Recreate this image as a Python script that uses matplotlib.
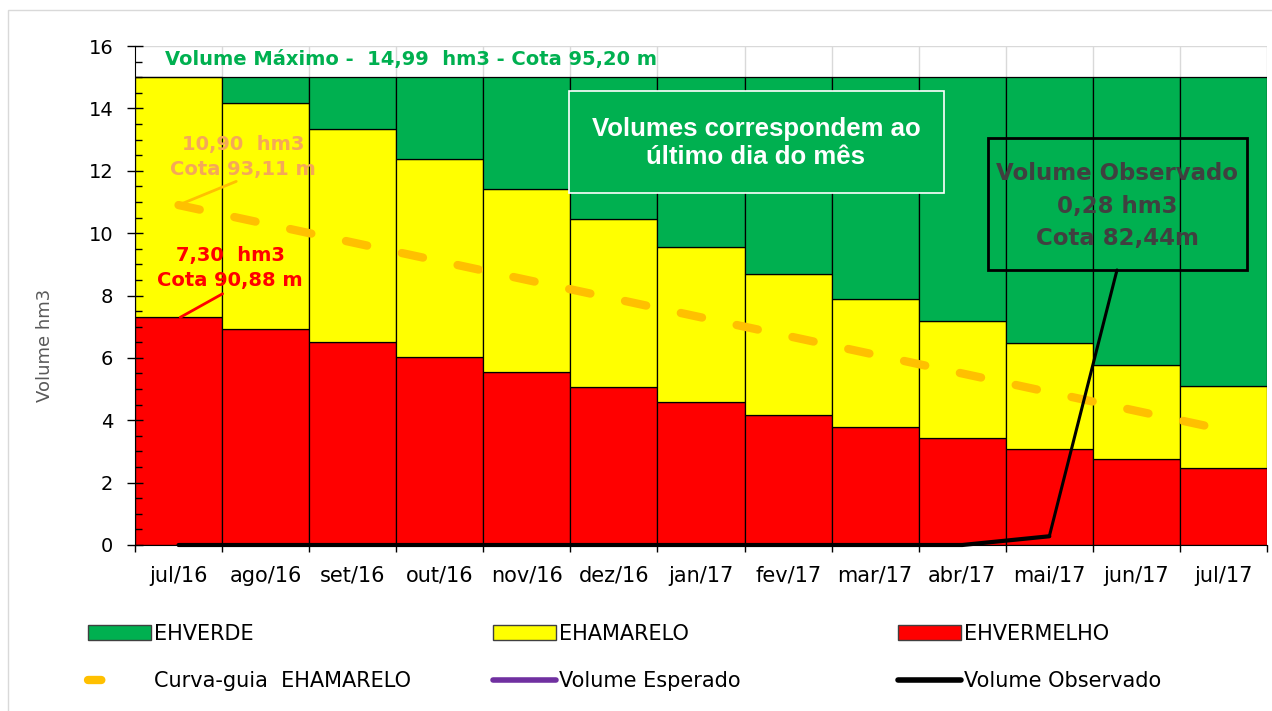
import numpy as np
import matplotlib
matplotlib.use("Agg")
import matplotlib.pyplot as plt
from matplotlib.patches import Patch, Rectangle
from matplotlib.lines import Line2D
from matplotlib.ticker import MultipleLocator

# dados (hm3)
meses = ["jul/16", "ago/16", "set/16", "out/16", "nov/16", "dez/16", "jan/17",
         "fev/17", "mar/17", "abr/17", "mai/17", "jun/17", "jul/17"]
vol_max = 14.99
topo_vermelho = [7.30, 6.92, 6.51, 6.03, 5.55, 5.06, 4.58, 4.17, 3.78, 3.43, 3.08, 2.76, 2.47]
topo_amarelo = [14.99, 14.17, 13.33, 12.37, 11.41, 10.45, 9.55, 8.69, 7.88, 7.18, 6.47, 5.77, 5.10]
curva_guia = [10.90, 10.30, 9.70, 9.10, 8.50, 7.90, 7.30, 6.70, 6.10, 5.50, 4.90, 4.30, 3.70]
vol_observado = [0, 0, 0, 0, 0, 0, 0, 0, 0, 0, 0.28, np.nan, np.nan]

VERDE = "#00B050"
AMARELO = "#FFFF00"
VERMELHO = "#FF0000"
LARANJA = "#FFC000"

ehvermelho = np.array(topo_vermelho)
ehamarelo = np.array(topo_amarelo) - ehvermelho
ehverde = vol_max - np.array(topo_amarelo)
x = np.arange(len(meses))

fig = plt.figure(figsize=(12.72, 7.11), dpi=100)
ax = fig.add_axes([135 / 1272, 1 - 545 / 711, 1132 / 1272, 499 / 711])

kw = dict(width=1.0, edgecolor="black", linewidth=0.9, zorder=2)
ax.bar(x, ehvermelho, color=VERMELHO, **kw)
ax.bar(x, ehamarelo, bottom=ehvermelho, color=AMARELO, **kw)
ax.bar(x, ehverde, bottom=ehvermelho + ehamarelo, color=VERDE, **kw)

ax.plot(x, curva_guia, color=LARANJA, lw=6, dashes=(2.6, 4.25),
        dash_capstyle="round", zorder=4)
ax.plot(x, vol_observado, color="black", lw=3, solid_capstyle="round",
        zorder=5, clip_on=False)

ax.set_xlim(-0.5, len(meses) - 0.5)
ax.set_ylim(0, 16)
ax.set_xticks(np.arange(-0.5, len(meses)))
ax.set_xticklabels([])
ax.set_xticks(x, minor=True)
ax.set_xticklabels(meses, minor=True, fontsize=15)
ax.tick_params(axis="x", which="major", direction="out", length=5, width=1)
ax.tick_params(axis="x", which="minor", length=0, pad=15)
ax.yaxis.set_major_locator(MultipleLocator(2))
ax.yaxis.set_minor_locator(MultipleLocator(0.5))
ax.tick_params(axis="y", which="major", direction="inout", length=11, width=1,
               labelsize=14, pad=10)
ax.tick_params(axis="y", which="minor", direction="in", length=5, width=1)
# grade clara por baixo das barras
for yv in np.arange(2, 17, 2):
    ax.axhline(yv, color="#D9D9D9", lw=1, zorder=0)
for xv in np.arange(0.5, len(meses)):
    ax.axvline(xv, color="#D9D9D9", lw=1, zorder=0)
ax.set_axisbelow(False)
for s in ["top", "right"]:
    ax.spines[s].set_visible(False)

fig.text(45 / 1272, 1 - 345 / 711, "Volume hm3", rotation=90, ha="center",
         va="center", fontsize=13, color="#595959")

ax.text(165, 711 - 59, "Volume Máximo -  14,99  hm3 - Cota 95,20 m",
        transform=None, ha="left", va="center", fontsize=14,
        fontweight="bold", color=VERDE, zorder=7)

# anotações
ax.annotate("10,90  hm3\nCota 93,11 m", xy=(0, curva_guia[0]),
            xytext=(243, 711 - 157), textcoords="figure pixels",
            ha="center", va="center", fontsize=14, fontweight="bold",
            color="#F5A858", linespacing=1.35, zorder=7,
            arrowprops=dict(arrowstyle="-", color=LARANJA, lw=2,
                            shrinkA=0, shrinkB=0, relpos=(0.5, 0.0)))
ax.annotate("7,30  hm3\nCota 90,88 m", xy=(0.02, topo_vermelho[0]),
            xytext=(230, 711 - 268), textcoords="figure pixels",
            ha="center", va="center", fontsize=14, fontweight="bold",
            color=VERMELHO, linespacing=1.35, zorder=7,
            arrowprops=dict(arrowstyle="-", color=VERMELHO, lw=2,
                            shrinkA=2, shrinkB=0, relpos=(0.5, 0.0)))

ax.text(756, 711 - 143, "Volumes correspondem ao\núltimo dia do mês",
        transform=None, ha="center", va="center", fontsize=18.5,
        fontweight="bold", family="Liberation Sans", color="white", zorder=8)
ax.add_patch(Rectangle((569, 711 - 193), 375, 102, transform=None,
                       facecolor=VERDE, edgecolor="white", lw=1.2, zorder=7))

ax.add_patch(Rectangle((988, 711 - 270), 259, 132, transform=None,
                       facecolor="none", edgecolor="black", lw=2, zorder=7))
ax.text(1117, 711 - 206, "Volume Observado\n0,28 hm3\nCota 82,44m",
        transform=None, ha="center", va="center", fontsize=16.5,
        fontweight="bold", color="#404040", linespacing=1.5, zorder=8)
ax.annotate("", xy=(10, vol_observado[10]), xytext=(1117, 711 - 270),
            textcoords="figure pixels",
            arrowprops=dict(arrowstyle="-", color="black", lw=2.2,
                            shrinkA=0, shrinkB=0), zorder=7)

# legenda
col1 = [Patch(facecolor=VERDE, edgecolor="#404040", label="EHVERDE"),
        Line2D([0], [0], color=LARANJA, lw=6, dashes=(1.6, 10),
               dash_capstyle="round", label="Curva-guia  EHAMARELO")]
col2 = [Patch(facecolor=AMARELO, edgecolor="#404040", label="EHAMARELO"),
        Line2D([0], [0], color="#7030A0", lw=4, solid_capstyle="round",
               label="Volume Esperado")]
col3 = [Patch(facecolor=VERMELHO, edgecolor="#404040", label="EHVERMELHO"),
        Line2D([0], [0], color="black", lw=4, solid_capstyle="round",
               label="Volume Observado")]
for hs, xp in [(col1, 88), (col2, 493), (col3, 898)]:
    fig.legend(handles=hs, loc="upper left", bbox_to_anchor=(xp / 1272, 1 - 624 / 711),
               frameon=False, fontsize=15, handlelength=3.0, handletextpad=0.15,
               labelspacing=1.3, borderpad=0, borderaxespad=0)

fig.add_artist(Rectangle((8 / 1272, -0.01), 1.2, 1.01 - 10 / 711,
                         transform=fig.transFigure, facecolor="none",
                         edgecolor="#D9D9D9", lw=1))

fig.savefig("out.png", dpi=100, facecolor="white")
